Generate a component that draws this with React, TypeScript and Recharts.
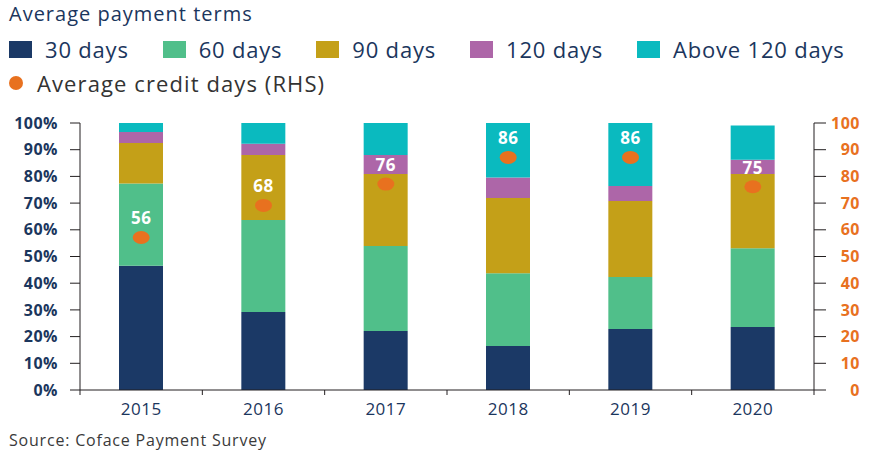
import React from 'react';
import { ComposedChart, Bar, Line, XAxis, YAxis, LabelList } from 'recharts';

const years = ['2015', '2016', '2017', '2018', '2019', '2020'];
const days30 = [46.5, 29.2, 22.1, 16.5, 22.8, 23.6];
const days60 = [30.8, 34.5, 31.8, 27.2, 19.5, 29.5];
const days90 = [15.2, 24.3, 27.0, 28.2, 28.5, 27.8];
const days120 = [4.1, 4.2, 7.1, 7.7, 5.6, 5.3];
const daysAbove120 = [3.4, 7.8, 12.0, 20.4, 23.6, 12.9];
const creditDays = [56, 68, 76, 86, 86, 75];
const leftTicks = [0, 10, 20, 30, 40, 50, 60, 70, 80, 90, 100];
const rightTicks = [0, 10, 20, 30, 40, 50, 60, 70, 80, 90, 100];

const data = years.map((year, i) => ({
  year,
  d30: days30[i],
  d60: days60[i],
  d90: days90[i],
  d120: days120[i],
  dAbove: daysAbove120[i],
  credit: creditDays[i],
}));

const NAVY = '#1B365D';
const C30 = '#1B3966';
const C60 = '#50BF8A';
const C90 = '#C4A018';
const C120 = '#AD66A8';
const CABOVE = '#0ABABF';
const ORANGE = '#E8711F';
const AXIS = '#231F20';
const FONT = '"Open Sans", "Noto Sans", sans-serif';

const legendItems = [
  { label: '30 days', color: C30 },
  { label: '60 days', color: C60 },
  { label: '90 days', color: C90 },
  { label: '120 days', color: C120 },
  { label: 'Above 120 days', color: CABOVE },
];

const XTick = (props: any) => {
  const { x, y, payload, index, visibleTicksCount } = props;
  const half = payload && payload.offset ? payload.offset : 61;
  const count = visibleTicksCount || years.length;
  return (
    <g>
      <line x1={x - half} x2={x - half} y1={y} y2={y + 5} stroke={AXIS} strokeWidth={1} />
      {index === count - 1 && (
        <line x1={x + half} x2={x + half} y1={y} y2={y + 5} stroke={AXIS} strokeWidth={1} />
      )}
      <text x={x} y={y + 19} dy="0.35em" textAnchor="middle" fill={NAVY} fontSize={17} fontFamily={FONT} letterSpacing={0.5}>
        {payload.value}
      </text>
    </g>
  );
};

const LeftTick = (props: any) => {
  const { x, y, payload } = props;
  return (
    <text x={x} y={y} dy="0.35em" textAnchor="end" fill={NAVY} fontSize={16} fontWeight={700} fontFamily={FONT} letterSpacing={0.5}>
      {payload.value + '%'}
    </text>
  );
};

const RightTick = (props: any) => {
  const { x, y, payload } = props;
  return (
    <text x={x} y={y} dy="0.35em" textAnchor="end" fill={ORANGE} fontSize={16} fontWeight={700} fontFamily={FONT} letterSpacing={0.5}>
      {payload.value}
    </text>
  );
};

const Dot = (props: any) => {
  const { cx, cy, index } = props;
  if (cx == null || cy == null) return null;
  return <ellipse key={'dot' + index} cx={cx} cy={cy - 3} rx={8.5} ry={6.5} fill={ORANGE} />;
};

const CreditLabel = (props: any) => {
  const { x, y, value } = props;
  return (
    <text x={x} y={y - 22} dy="0.35em" textAnchor="middle" fill="#FFFFFF" fontSize={17} fontWeight={700} fontFamily={FONT} letterSpacing={0.5}>
      {value}
    </text>
  );
};

export default function App() {
  return (
    <div style={{ position: 'absolute', left: 0, top: 0, width: 871, height: 453, background: '#fff', fontFamily: FONT }}>
      <div style={{ position: 'absolute', left: 9, top: 2, fontSize: 20, lineHeight: '24px', color: NAVY, fontWeight: 400, letterSpacing: 1, whiteSpace: 'nowrap' }}>
        Average payment terms
      </div>
      <div style={{ position: 'absolute', left: 9, top: 35, height: 28, display: 'flex', alignItems: 'center', whiteSpace: 'nowrap' }}>
        {legendItems.map((it) => (
          <div key={it.label} style={{ display: 'flex', alignItems: 'center', marginRight: 34 }}>
            <div style={{ width: 23, height: 17, background: it.color, marginRight: 13 }} />
            <span style={{ fontSize: 22, lineHeight: '28px', color: NAVY, letterSpacing: 0.8 }}>{it.label}</span>
          </div>
        ))}
      </div>
      <div style={{ position: 'absolute', left: 9, top: 69, height: 28, display: 'flex', alignItems: 'center', whiteSpace: 'nowrap' }}>
        <div style={{ width: 14, height: 14, borderRadius: 7, background: ORANGE, marginRight: 14 }} />
        <span style={{ fontSize: 22, lineHeight: '28px', color: '#333333', letterSpacing: 1.1 }}>Average credit days (RHS)</span>
      </div>
      <div style={{ position: 'absolute', left: 9, top: 429, fontSize: 16, lineHeight: '22px', color: '#3A3A3A', letterSpacing: 0.8, whiteSpace: 'nowrap' }}>
        Source: Coface Payment Survey
      </div>
      <div style={{ position: 'absolute', left: 0, top: 0 }}>
        <ComposedChart width={871} height={453} data={data} margin={{ top: 123, right: 0, bottom: 33, left: 0 }}>
          <XAxis
            dataKey="year"
            height={30}
            tickLine={false}
            tickSize={0}
            tickMargin={0}
            axisLine={{ stroke: AXIS }}
            tick={<XTick />}
            interval={0}
          />
          <YAxis
            yAxisId="left"
            orientation="left"
            width={80}
            domain={[0, 100]}
            ticks={leftTicks}
            interval={0}
            tickSize={10}
            tickMargin={12}
            stroke={AXIS}
            axisLine={{ stroke: AXIS }}
            tickLine={{ stroke: AXIS }}
            tick={<LeftTick />}
          />
          <YAxis
            yAxisId="right"
            orientation="right"
            width={57}
            domain={[0, 100]}
            ticks={rightTicks}
            interval={0}
            tickSize={12}
            tickMargin={34}
            stroke={AXIS}
            axisLine={{ stroke: AXIS }}
            tickLine={{ stroke: AXIS }}
            tick={<RightTick />}
          />
          <Bar yAxisId="left" dataKey="d30" stackId="a" fill={C30} barSize={44} isAnimationActive={false} />
          <Bar yAxisId="left" dataKey="d60" stackId="a" fill={C60} barSize={44} isAnimationActive={false} />
          <Bar yAxisId="left" dataKey="d90" stackId="a" fill={C90} barSize={44} isAnimationActive={false} />
          <Bar yAxisId="left" dataKey="d120" stackId="a" fill={C120} barSize={44} isAnimationActive={false} />
          <Bar yAxisId="left" dataKey="dAbove" stackId="a" fill={CABOVE} barSize={44} isAnimationActive={false} />
          <Line
            yAxisId="right"
            dataKey="credit"
            stroke="none"
            strokeWidth={0}
            dot={<Dot />}
            activeDot={false}
            isAnimationActive={false}
          >
            <LabelList dataKey="credit" content={<CreditLabel />} />
          </Line>
        </ComposedChart>
      </div>
    </div>
  );
}
